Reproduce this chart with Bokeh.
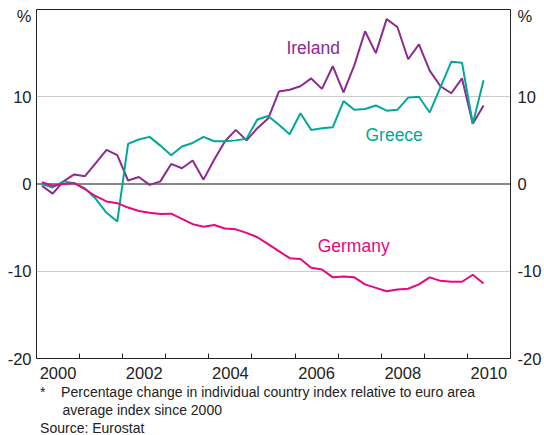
from bokeh.plotting import figure
from bokeh.models import Range1d, FixedTicker, LinearAxis, Span, Label, Title
from bokeh.embed import file_html
from bokeh.resources import INLINE

# ---- data: quarterly, 2000Q1 .. 2010Q2 (per cent, relative to euro area) ----
quarters = [f"{y}Q{q}" for y in range(2000, 2011) for q in range(1, 5)][:42]

ireland = [-0.2, -1.1, 0.3, 1.1, 0.9, 2.4, 3.9, 3.3, 0.4, 0.8, -0.1, 0.3,
           2.3, 1.8, 2.7, 0.5, 2.8, 4.9, 6.2, 5.0, 6.4, 7.5, 10.6, 10.8,
           11.2, 12.1, 10.9, 13.5, 10.5, 13.6, 17.5, 15.0, 18.9, 18.0, 14.3, 16.0,
           13.0, 11.2, 10.4, 12.1, 6.9, 9.0]

greece = [0.0, -0.4, 0.3, 0.1, -0.5, -1.7, -3.3, -4.3, 4.6, 5.1, 5.4, 4.4,
          3.3, 4.3, 4.7, 5.4, 4.9, 4.9, 5.0, 5.2, 7.4, 7.8, 6.8, 5.7,
          8.1, 6.2, 6.4, 6.5, 9.5, 8.5, 8.6, 9.0, 8.4, 8.5, 9.9, 10.0,
          8.2, 11.1, 14.0, 13.9, 6.9, 11.9]

germany = [0.2, -0.2, 0.0, 0.1, -0.6, -1.4, -2.0, -2.2, -2.7, -3.1, -3.3, -3.45,
           -3.4, -4.0, -4.6, -4.9, -4.7, -5.1, -5.2, -5.6, -6.1, -6.9, -7.7, -8.5,
           -8.6, -9.6, -9.8, -10.7, -10.6, -10.7, -11.5, -11.9, -12.3, -12.1, -12.0, -11.5,
           -10.7, -11.1, -11.2, -11.2, -10.4, -11.4]

label_years = [2000, 2002, 2004, 2006, 2008, 2010]
boundary_years = [2001, 2002, 2003, 2004, 2005, 2006, 2007, 2008, 2009, 2010]
y_ticks = [-20, -10, 0, 10]
grid_ticks = [-10, 10]
unit_label = "%"

footnote_1 = "*\u00a0\u00a0\u00a0\u00a0Percentage change in individual country index relative to euro area"
footnote_2 = "average index since 2000"
source = "Source: Eurostat"

# quarter label -> mid-quarter decimal year
x = [int(s[:4]) + (int(s[5]) - 0.5) / 4 for s in quarters]

FONT = "Liberation Sans"
C_IRE = "#8c2a8f"
C_GRE = "#00a89c"
C_GER = "#e6087f"
TXT = "#222222"

p = figure(width=544, height=435, output_backend="svg", toolbar_location=None,
           x_range=Range1d(2000, 2011), y_range=Range1d(-20, 20),
           min_border_top=9, min_border_bottom=77, min_border_left=36, min_border_right=33)
p.background_fill_color = "white"
p.border_fill_color = "white"
p.outline_line_color = TXT
p.outline_line_width = 1
p.outline_line_alpha = 1

# grid
p.xgrid.visible = False
p.ygrid.ticker = FixedTicker(ticks=grid_ticks)
p.ygrid.grid_line_color = "#cccccc"
p.ygrid.grid_line_width = 1.2

zero = Span(location=0, dimension="width", line_color="#111111", line_width=1.2, level="underlay")
p.add_layout(zero)

# bottom axis: labels centred in the year, ticks at year boundaries
xa = p.xaxis[0]
xa.ticker = FixedTicker(ticks=[yr + 0.5 for yr in label_years], minor_ticks=boundary_years)
xa.major_label_overrides = {yr + 0.5: str(yr) for yr in label_years}
xa.axis_line_color = None
xa.major_tick_line_color = None
xa.major_tick_in = 0
xa.major_tick_out = 0
xa.minor_tick_line_color = TXT
xa.minor_tick_in = 5
xa.minor_tick_out = 0
xa.major_label_standoff = 8
xa.major_label_text_font = FONT
xa.major_label_text_font_size = "16.5px"
xa.major_label_text_color = TXT

# the unit label sits just under the top edge, next to the axis
unit_pos = 20 - 0.75
ylab = {t: str(t) for t in y_ticks}
ylab[unit_pos] = unit_label

def style_y(ax, standoff):
    ax.ticker = FixedTicker(ticks=y_ticks + [unit_pos])
    ax.major_label_overrides = ylab
    ax.axis_line_color = None
    ax.major_tick_line_color = None
    ax.major_tick_in = 0
    ax.major_tick_out = 0
    ax.minor_tick_line_color = None
    ax.minor_tick_in = 0
    ax.minor_tick_out = 0
    ax.major_label_standoff = standoff
    ax.major_label_text_font = FONT
    ax.major_label_text_font_size = "16.5px"
    ax.major_label_text_color = TXT

style_y(p.yaxis[0], 5)
ra = LinearAxis()
style_y(ra, 7)
p.add_layout(ra, "right")

# series
p.line(x, ireland, line_color=C_IRE, line_width=2)
p.line(x, greece, line_color=C_GRE, line_width=2)
p.line(x, germany, line_color=C_GER, line_width=2)

# series labels
for txt, lx, ly, col in [("Ireland", 2006.42, 15.6, C_IRE),
                         ("Greece", 2008.30, 5.6, C_GRE),
                         ("Germany", 2007.36, -7.15, C_GER)]:
    p.add_layout(Label(x=lx, y=ly, text=txt, text_align="center", text_baseline="alphabetic",
                       text_color=col, text_font=FONT, text_font_size="17.5px"))

# footnotes below the axis
for txt, off in [(footnote_1, 3.6), (footnote_2, 25.9), (source, 3.6)]:
    p.add_layout(Title(text=txt, align="left", offset=off, standoff=0,
                       text_font=FONT, text_font_size="14px", text_font_style="normal",
                       text_color=TXT), "below")

open("out.html", "w").write(file_html(p, INLINE))
